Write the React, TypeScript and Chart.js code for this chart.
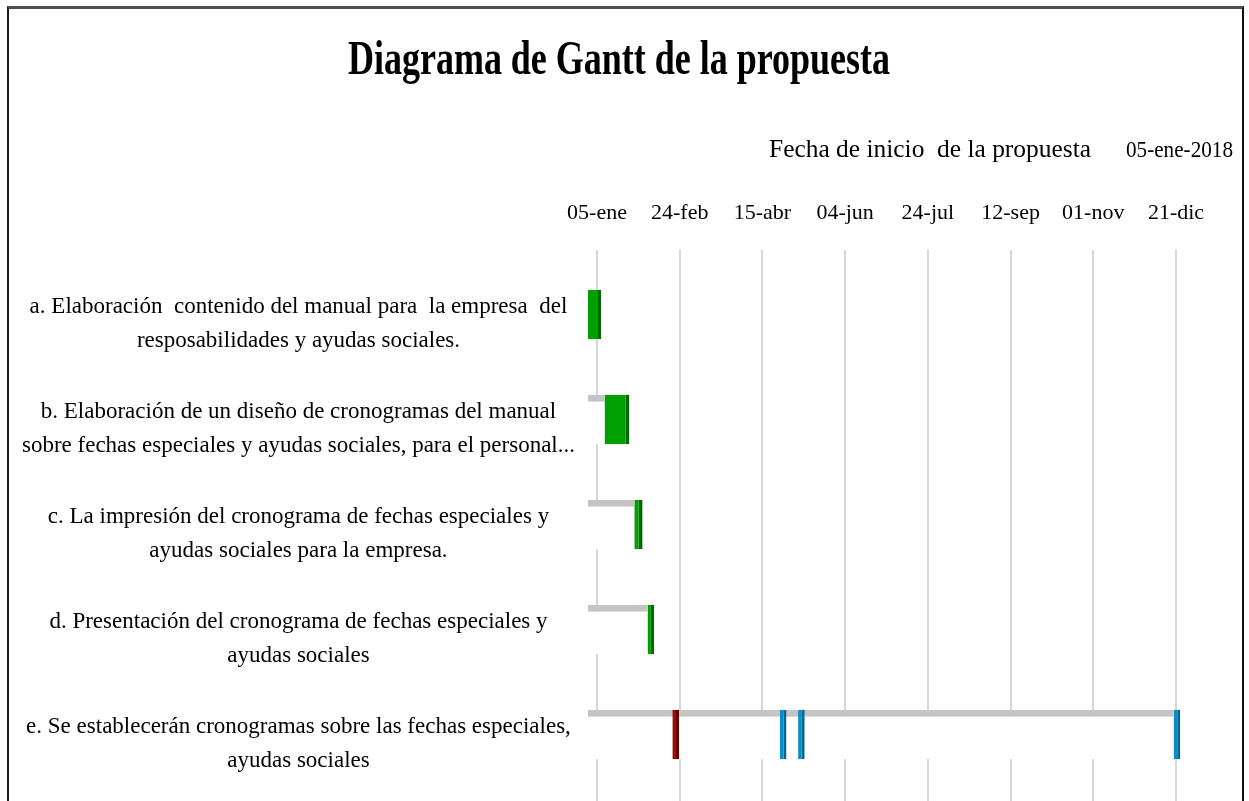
import React, { useEffect, useRef } from 'react';
import { Chart, registerables } from 'chart.js';

Chart.register(...registerables);

// ---------- text ----------
const chartTitle = 'Diagrama de Gantt de la propuesta';
const startCaption = 'Fecha de inicio  de la propuesta';
const startDateText = '05-ene-2018';

// ---------- categories (tasks) ----------
const taskLabels: string[][] = [
  ['a. Elaboración  contenido del manual para  la empresa  del', 'resposabilidades y ayudas sociales.'],
  ['b. Elaboración de un diseño de cronogramas del manual', 'sobre fechas especiales y ayudas sociales, para el personal...'],
  ['c. La impresión del cronograma de fechas especiales y', 'ayudas sociales para la empresa.'],
  ['d. Presentación del cronograma de fechas especiales y', 'ayudas sociales'],
  ['e. Se establecerán cronogramas sobre las fechas especiales,', 'ayudas sociales'],
];

// ---------- x axis tick labels (every 50 days from 05-ene-2018) ----------
const dateTickLabels = ['05-ene', '24-feb', '15-abr', '04-jun', '24-jul', '12-sep', '01-nov', '21-dic'];
const tickStepDays = 50;

// ---------- series (days after the start date) ----------
// invisible "start offset" series (white bars with grey 3D top)
const offsetEndDays = [0, 10, 28, 36, 354];
// green tasks [start, end]
const greenStart = [0, 10, 28, 36];
const greenEnd = [8, 25, 33, 40];
const greenRows = [0, 1, 2, 3];
// red milestone in row e
const redStart = [51];
const redEnd = [55];
const redRows = [4];
// blue milestones in row e
const blueStart = [116, 127, 354];
const blueEnd = [120, 131, 358];
const blueRows = [4, 4, 4];

const FONT = '"Liberation Serif", "Times New Roman", serif';

const drawFitted = (
  ctx: CanvasRenderingContext2D,
  text: string,
  x: number,
  y: number,
  width: number,
  font: string,
  align: CanvasTextAlign
) => {
  ctx.save();
  ctx.font = font;
  ctx.fillStyle = '#000';
  ctx.textBaseline = 'alphabetic';
  ctx.textAlign = align;
  const w = ctx.measureText(text).width || 1;
  ctx.translate(x, y);
  ctx.scale(width / w, 1);
  ctx.fillText(text, 0, 0);
  ctx.restore();
};

const textPlugin = {
  id: 'ganttTexts',
  afterDraw(chart: any) {
    const ctx = chart.ctx as CanvasRenderingContext2D;
    drawFitted(ctx, chartTitle, 619, 74, 542, `bold 48px ${FONT}`, 'center');
    drawFitted(ctx, startCaption, 769, 157, 322, `25px ${FONT}`, 'left');
    drawFitted(ctx, startDateText, 1233, 157, 107, `24px ${FONT}`, 'right');
  },
};

const intTicks = (scale: any) => {
  scale.ticks = taskLabels.map((_, i) => ({ value: i }));
};

const noPad = (s: any) => {
  s.paddingTop = 0;
  s.paddingBottom = 0;
};

export default function App() {
  const ref = useRef<HTMLCanvasElement>(null);

  useEffect(() => {
    if (!ref.current) return;
    const depthDays = 5.44; // 3D perspective shift of the bar front plane

    const common = {
      xAxisID: 'xf',
      yAxisID: 'yb',
      grouped: false,
      categoryPercentage: 1,
      barPercentage: 0.47,
      clip: false as const,
      borderSkipped: false as const,
      inflateAmount: 0,
    };

    const chart = new Chart(ref.current, {
      type: 'bar',
      data: {
        datasets: [
          {
            ...common,
            label: 'Tareas',
            data: greenRows.map((r, i) => ({ x: [greenStart[i], greenEnd[i]], y: r })) as any,
            backgroundColor: '#00a000',
            borderColor: '#006a00',
            borderWidth: { top: 0, right: 4, bottom: 0, left: 0 },
          },
          {
            ...common,
            label: 'Hito',
            data: redRows.map((r, i) => ({ x: [redStart[i], redEnd[i]], y: r })) as any,
            backgroundColor: '#a00808',
            borderColor: '#660000',
            borderWidth: { top: 0, right: 3, bottom: 0, left: 0 },
          },
          {
            ...common,
            label: 'Seguimiento',
            data: blueRows.map((r, i) => ({ x: [blueStart[i], blueEnd[i]], y: r })) as any,
            backgroundColor: '#0a8cc6',
            borderColor: '#05668f',
            borderWidth: { top: 0, right: 3, bottom: 0, left: 0 },
          },
          {
            ...common,
            label: 'Inicio',
            data: offsetEndDays.map((d, i) => ({ x: [0, d], y: i })) as any,
            backgroundColor: '#ffffff',
            borderColor: '#c4c4c4',
            borderWidth: { top: 7, right: 0, bottom: 0, left: 0 },
          },
        ],
      },
      options: {
        indexAxis: 'y',
        animation: false,
        responsive: false,
        devicePixelRatio: 1,
        layout: { padding: { left: 0, right: 73, top: 0, bottom: 0 } },
        plugins: {
          legend: { display: false },
          tooltip: { enabled: false },
          title: { display: false },
        },
        scales: {
          x: {
            type: 'linear',
            position: 'top',
            offset: false,
            min: 0,
            max: tickStepDays * (dateTickLabels.length - 1),
            afterBuildTicks: (s: any) => {
              s.ticks = dateTickLabels.map((_, i) => ({ value: i * tickStepDays }));
            },
            afterFit: (s: any) => {
              s.height = 250;
            },
            ticks: {
              autoSkip: false,
              maxRotation: 0,
              padding: 24,
              color: '#000',
              font: { family: FONT, size: 22, lineHeight: 1.2 },
              callback: (_v: any, i: number) => dateTickLabels[i],
            },
            grid: { color: '#d6d6d6', lineWidth: 2, drawTicks: false, tickLength: 0 },
            border: { display: false },
          },
          xf: {
            type: 'linear',
            axis: 'x',
            display: false,
            offset: false,
            min: 0 + depthDays,
            max: tickStepDays * (dateTickLabels.length - 1) + depthDays,
          },
          y: {
            type: 'linear',
            position: 'left',
            reverse: true,
            offset: false,
            min: -0.705,
            max: 4.543,
            afterBuildTicks: intTicks,
            afterFit: (s: any) => {
              s.width = 597;
              noPad(s);
            },
            ticks: {
              autoSkip: false,
              crossAlign: 'center',
              padding: 22,
              color: '#000',
              font: { family: FONT, size: 23, lineHeight: 1.5 },
              callback: (_v: any, i: number) => taskLabels[i],
            },
            grid: { display: false, offset: false, drawTicks: false, tickLength: 0 },
            border: { display: false },
          },
          yb: {
            type: 'linear',
            axis: 'y',
            display: false,
            reverse: true,
            offset: false,
            min: -0.614,
            max: 4.633,
            afterBuildTicks: intTicks,
            afterFit: noPad,
            grid: { offset: false },
          },
        } as any,
      },
      plugins: [textPlugin],
    });

    return () => chart.destroy();
  }, []);

  return (
    <div
      style={{
        position: 'absolute',
        left: 0,
        top: 0,
        width: 1249,
        height: 801,
        overflow: 'hidden',
        background: '#ffffff',
      }}
    >
      <div
        style={{
          position: 'absolute',
          left: 7,
          top: 6,
          width: 1233,
          height: 900,
          borderTop: '3px solid #505050',
          borderLeft: '2px solid #1e1e1e',
          borderRight: '2px solid #111111',
        }}
      />
      <canvas
        ref={ref}
        width={1249}
        height={801}
        style={{ position: 'absolute', left: 0, top: 0, width: 1249, height: 801 }}
      />
    </div>
  );
}
